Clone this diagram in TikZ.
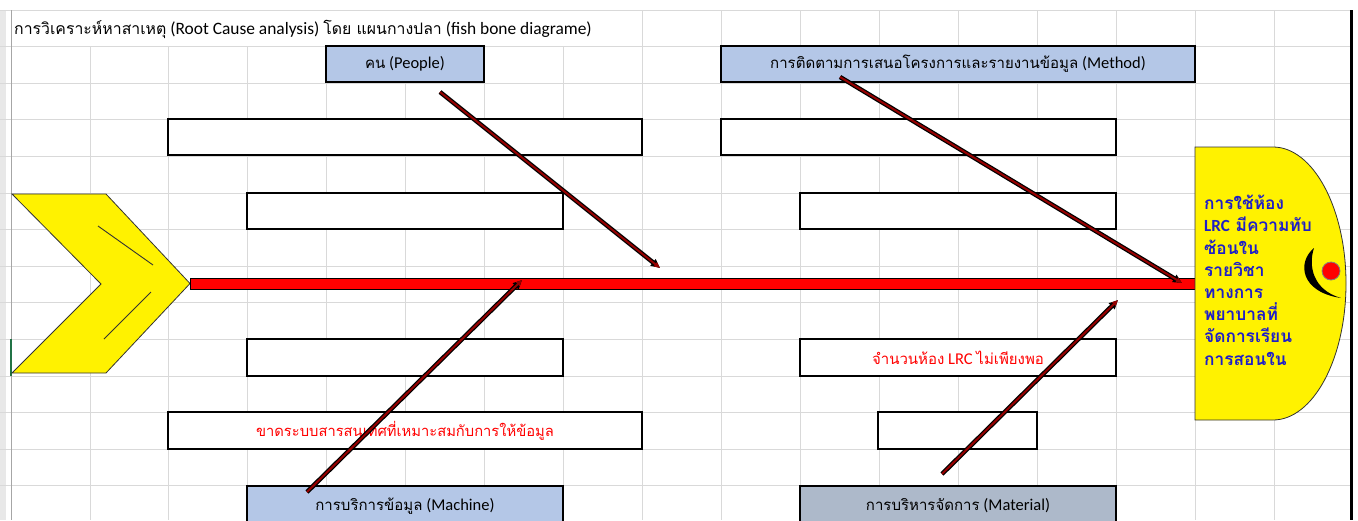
\documentclass[tikz,border=0pt]{standalone}
\usepackage{fontspec}
\setmainfont{Carlito}
\newfontfamily\thaifont[Script=Thai,Scale=0.91]{Loma}
\newfontfamily\latfont{Carlito}
\usetikzlibrary{arrows.meta}
\definecolor{gridgray}{RGB}{217,217,217}
\definecolor{catblue}{RGB}{180,199,231}
\definecolor{matblue}{RGB}{173,185,202}
\definecolor{bonered}{RGB}{150,0,0}
\definecolor{headblue}{RGB}{30,30,200}
\definecolor{hdrgray}{RGB}{232,232,232}
\definecolor{selgreen}{RGB}{33,115,70}
\tikzset{
  gridline/.style={draw=gridgray, line width=0.8pt},
  catbox/.style={draw=black, line width=1.2pt, fill=catblue, minimum height=36pt, inner sep=0pt, font=\fontsize{16.5}{18}\selectfont},
  causebox/.style={draw=black, line width=2pt, fill=white, minimum height=36.5pt, inner sep=0pt, font=\fontsize{16.5}{18}\selectfont, text=red},
  bonearrow/.style={draw=bonered, line width=2pt, -{Triangle[length=6pt,width=5pt]},
     preaction={draw=black, line width=4.5pt, -{Triangle[length=9pt,width=8pt]}}},
}
\begin{document}
\begin{tikzpicture}[x=1pt,y=-1pt]
\useasboundingbox (0,0) rectangle (1358,520);
\fill[white] (0,0) rectangle (1358,520);
% row header band
\fill[hdrgray] (0,10) rectangle (6,520);
% horizontal grid lines
\foreach \j in {0,...,13} {
  \draw[gridline] (0,{10+36.6*\j}) -- (1351,{10+36.6*\j});
}
\draw[draw=gray!70, line width=0.8pt] (11,10) -- (11,520);
% vertical grid lines
\foreach \x in {90,168,247,326,405,484,563} {
  \draw[gridline] (\x,46.6) -- (\x,520);
}
\foreach \x in {642,721,800,879,958,1037,1116,1195,1274} {
  \draw[gridline] (\x,10) -- (\x,520);
}
\draw[black, line width=3pt] (1351,10) -- (1351,520);
\draw[selgreen, line width=2pt] (11,339) -- (11,376);

% title
\node[anchor=base west, inner sep=0pt, font=\fontsize{17.4}{19}\selectfont] (title) at (14,34)
  {{\thaifont การวิเคราะห์หาสาเหตุ} (Root Cause analysis) {\thaifont โดย แผนกางปลา} (fish bone diagrame)};

% category boxes
\node[catbox, minimum width=158pt] (people) at (405,64) {{\thaifont คน} (People)};
\node[catbox, minimum width=474pt] (method) at (958,64) {{\thaifont การติดตามการเสนอโครงการและรายงานข้อมูล} (Method)};
\node[catbox, minimum width=316pt, minimum height=40pt] (machine) at (405,506) {{\thaifont การบริการข้อมูล} (Machine)};
\node[catbox, fill=matblue, minimum width=316pt, minimum height=40pt] (material) at (958,506) {{\thaifont การบริหารจัดการ} (Material)};

% cause boxes
\node[causebox, minimum width=474pt] (c1) at (405,137) {};
\node[causebox, minimum width=395pt] (c2) at (918.5,137) {};
\node[causebox, minimum width=316pt] (c3) at (405,211) {};
\node[causebox, minimum width=316pt] (c4) at (958,211) {};
\node[causebox, minimum width=316pt] (c5) at (405,357.5) {};
\node[causebox, minimum width=316pt] (c6) at (958,357.5) {{\thaifont จำนวนห้อง} LRC {\thaifont ไม่เพียงพอ}};
\node[causebox, minimum width=474pt, font=\fontsize{16.2}{18}\selectfont] (c7) at (405,430.5) {{\thaifont ขาดระบบสารสนเทศที่เหมาะสมกับการให้ข้อมูล}};
\node[causebox, minimum width=159pt] (c8) at (957.5,430.5) {};

% tail
\draw[fill=yellow, draw=black!80, line width=0.8pt]
  (12,194) -- (106,194) -- (190,283.5) -- (106,373) -- (12,373) -- (101,284) -- cycle;
\draw[black!80, line width=0.9pt] (98,226) -- (153,265);
\draw[black!80, line width=0.9pt] (151,292) -- (104,339);

% spine
\node[draw=black, line width=0.8pt, fill=red, minimum width=1005pt, minimum height=11pt, inner sep=0pt] (spine) at (692.5,283.5) {};

% head
\draw[fill=yellow, draw=black!80, line width=0.8pt]
  (1195,147) -- (1273,147) .. controls (1313,147) and (1346,208) .. (1346,283.5)
  .. controls (1346,359) and (1313,420) .. (1273,420) -- (1195,420) -- cycle;
\node[anchor=north west, inner sep=0pt, align=left, text=headblue,
      font=\thaifont\bfseries\fontsize{19}{22.2}\selectfont] (problem) at (1204,195)
  {การใช้ห้อง\\{\latfont\bfseries\fontsize{17}{22.2}\selectfont LRC} มีความทับ\\ซ้อนใน\\รายวิชา\\ทางการ\\พยาบาลที่\\จัดการเรียน\\การสอนใน};
% eye
\fill[black] (1314,248) .. controls (1297,262) and (1300,292) .. (1341,298)
  .. controls (1313,290) and (1308,266) .. (1314,248) -- cycle;
\draw[fill=red, draw=gray, line width=0.8pt] (1331,271) circle (9pt);

% arrows
\coordinate (p0) at (440,92);   \coordinate (p1) at (660,268);
\coordinate (m0) at (840,77);   \coordinate (m1) at (1182,283);
\coordinate (k0) at (307,492);  \coordinate (k1) at (522,280);
\coordinate (t0) at (942,474);  \coordinate (t1) at (1118,300);
\draw[bonearrow] (p0) -- (p1);
\draw[bonearrow] (m0) -- (m1);
\draw[bonearrow] (k0) -- (k1);
\draw[bonearrow] (t0) -- (t1);
\end{tikzpicture}
\end{document}
